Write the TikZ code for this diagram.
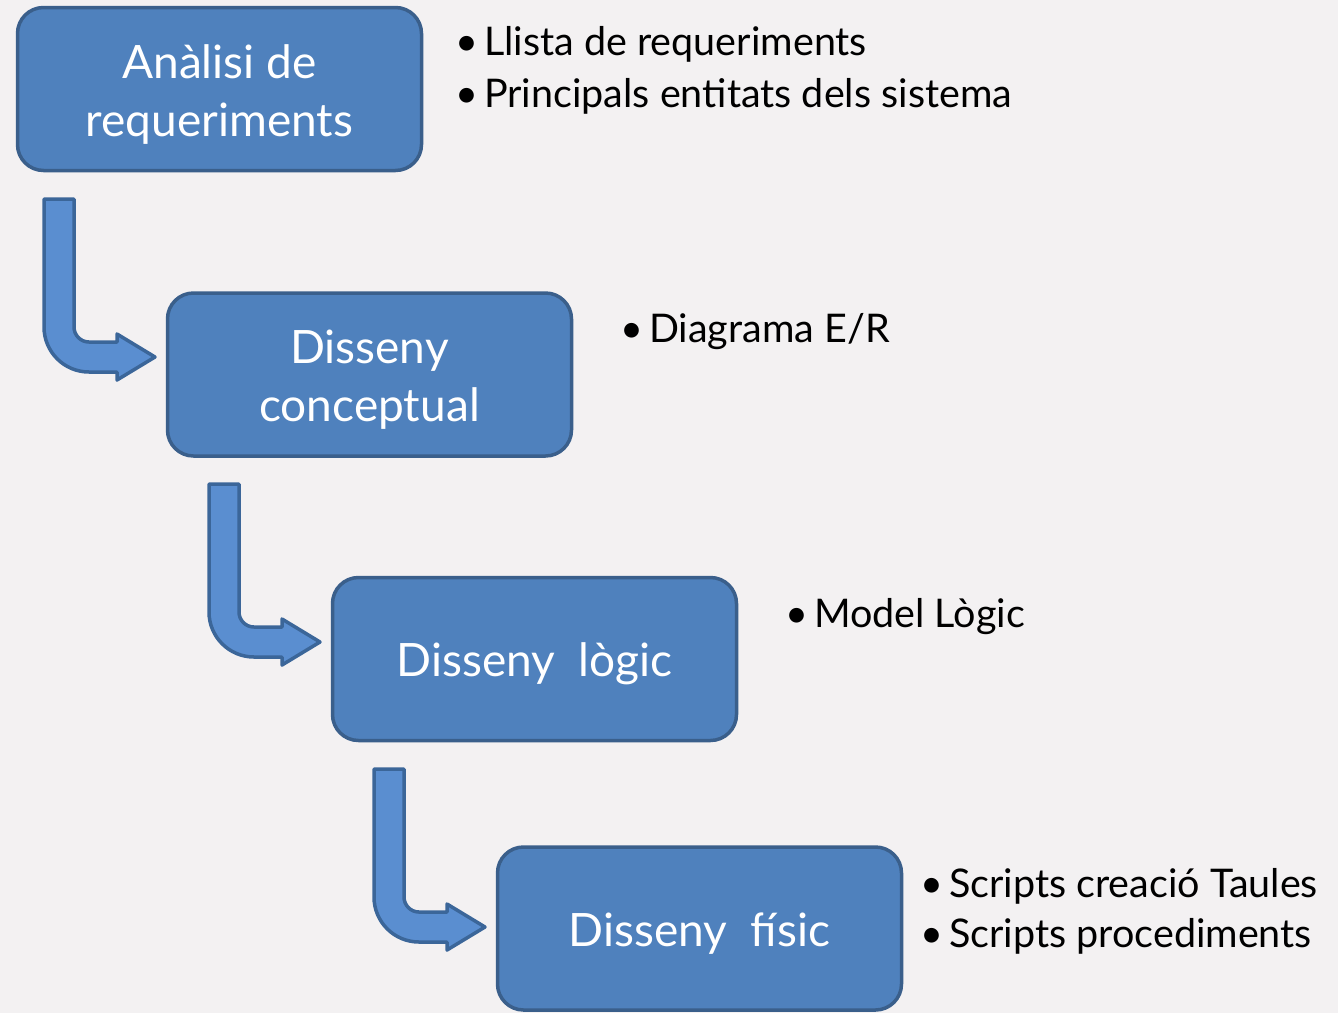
\documentclass[tikz,border=0pt]{standalone}
\usepackage{fontspec}
\setmainfont{Lato}
\definecolor{bg}{HTML}{F3F1F2}
\definecolor{boxfill}{HTML}{4F81BD}
\definecolor{boxline}{HTML}{3A5F8B}
\definecolor{arrfill}{HTML}{5A8ED0}
\definecolor{arrline}{HTML}{3B6699}
\newcommand{\bulletmark}{•\hspace{6pt}}
\begin{document}
\begin{tikzpicture}[x=1pt,y=1pt,
  stagebox/.style={draw=boxline, line width=3.5pt, fill=boxfill, rounded corners=26pt,
    minimum width=404pt, minimum height=163pt, inner sep=0pt},
  stagetext/.style={inner sep=0pt, text=white, align=center, yshift=-5pt,
    font=\fontsize{46}{58}\selectfont},
  bullettext/.style={anchor=base west, inner sep=0pt, text=black,
    font=\fontsize{39.5}{50}\selectfont},
  bentarrow/.style={draw=arrline, line width=3.5pt, fill=arrfill, line join=round}]
\useasboundingbox (0,0) rectangle (1338,-1013);
\fill[bg] (0,0) rectangle (1338,-1013);

\node[stagebox] (s1) at (219.5,-89) {};
\node[stagebox] (s2) at (369.5,-374.5) {};
\node[stagebox] (s3) at (534.5,-659) {};
\node[stagebox] (s4) at (699.5,-928.5) {};
\node[stagetext] (s1t) at (s1.center) {Anàlisi de\\requeriments};
\node[stagetext] (s2t) at (s2.center) {Disseny\\conceptual};
\node[stagetext] (s3t) at (s3.center) {Disseny\ \ lògic};
\node[stagetext] (s4t) at (s4.center) {Disseny\ \ físic};

\node[bullettext] (t1a) at (455,-55) {\bulletmark Llista de requeriments};
\node[bullettext] (t1b) at (455,-107) {\bulletmark Principals entitats dels sistema};
\node[bullettext] (t2) at (620,-342) {\bulletmark Diagrama E/R};
\node[bullettext] (t3) at (785,-627) {\bulletmark Model Lògic};
\node[bullettext] (t4a) at (920,-897) {\bulletmark Scripts creació Taules};
\node[bullettext] (t4b) at (920,-947) {\bulletmark Scripts procediments};

\foreach \i/\ox/\oy in {1/0/0, 2/165/285, 3/330/570}{
  \draw[bentarrow] ([shift={(\ox,-\oy)}]44,-199) coordinate (a\i)
    -- ++(30,0) -- ++(0,-128)
    arc[start angle=180, end angle=270, radius=15]
    -- ++(28,0) -- ++(0,8) -- ++(38,-23) -- ++(-38,-23) -- ++(0,8) -- ++(-28,0)
    arc[start angle=270, end angle=180, radius=45]
    -- cycle;
}
\end{tikzpicture}
\end{document}
